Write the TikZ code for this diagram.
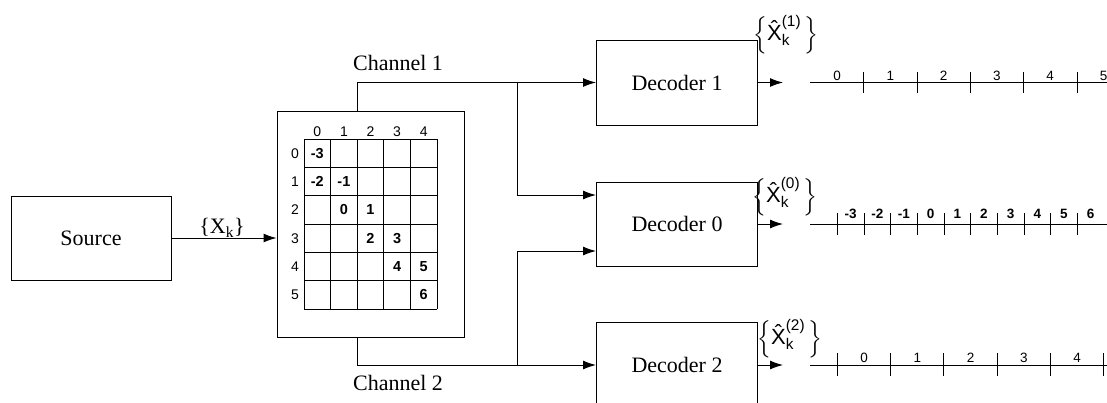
\RequirePackage{fix-cm}
\documentclass[tikz,border=0pt]{standalone}
\usepackage{amsmath}
\usepackage{fontspec}
\setmainfont{Liberation Serif}
\setsansfont{Liberation Sans}
\usetikzlibrary{arrows.meta}

\newcommand{\estlabel}[1]{$\Bigl\{\textsf{\^X}^{\textsf{(#1)}}_{\textsf{k}}\,\Bigr\}$}

\begin{document}
\begin{tikzpicture}[
		x=1pt, y=-1pt,
		line width=1pt,
		block/.style={draw, rectangle, minimum width=161pt, minimum height=85pt, font=\fontsize{22}{26}\selectfont},
		link/.style={-{Latex[length=13pt,width=9pt]}},
		cellline/.style={line width=0.9pt},
		head/.style={font=\fontsize{14}{16}\sffamily},
		entry/.style={font=\fontsize{14.5}{16}\sffamily\bfseries},
		tickmark/.style={line width=0.9pt},
		num/.style={font=\fontsize{13.5}{15}\sffamily, inner sep=0pt},
		est/.style={font=\fontsize{22}{26}\selectfont, inner sep=0pt},
		chan/.style={font=\fontsize{22}{26}\selectfont}
		]
		\useasboundingbox (0,0) rectangle (1107,402);

		\node[block, minimum width=160pt, minimum height=84pt] (src) at (91,238) {Source};
		\node[draw, minimum width=187pt, minimum height=226pt] (enc) at (370.5,224) {};
		\node[block] (dec1) at (677,82.5) {Decoder 1};
		\node[block, minimum height=84pt] (dec0) at (677,224) {Decoder 0};
		\node[block, minimum height=86pt] (dec2) at (677,365) {Decoder 2};

		% source to encoder
		\draw[link] (src.east) -- (src.east -| enc.west);
		\node[chan] (xk) at (222,228) {\{X\textsubscript{k}\}};

		% the two channels
		\coordinate (c1) at (357,82.5);
		\coordinate (c2) at (357,365);
		\coordinate (b1) at (517,82.5);
		\coordinate (b2) at (517,365);
		\draw[link] (c1 |- enc.north) -- (c1) -- (dec1.west);
		\draw[link] (c2 |- enc.south) -- (c2) -- (dec2.west);
		\draw[link] (b1) |- ([yshift=29pt]dec0.west);
		\draw[link] (b2) |- ([yshift=-27pt]dec0.west);
		\node[chan] (ch1) at (398,63) {Channel 1};
		\node[chan] (ch2) at (398,383) {Channel 2};

		% index table
		\foreach \i in {0,...,5}
			\draw[cellline] ({304+26.6*\i},139) -- ({304+26.6*\i},309);
		\foreach \j in {0,...,6}
			\draw[cellline] (304,{139+28.33*\j}) -- (437,{139+28.33*\j});
		\foreach \i in {0,...,4}
			\node[head] (h\i) at ({317.3+26.6*\i},132) {\i};
		\foreach \j in {0,...,5}
			\node[head] (r\j) at (295,{153.2+28.33*\j}) {\j};
		\foreach \r/\c/\v in {0/0/-3,1/0/-2,1/1/-1,2/1/0,2/2/1,3/2/2,3/3/3,4/3/4,4/4/5,5/4/6}
			\node[entry] (e\r\c) at ({317.3+26.6*\c},{153.2+28.33*\r}) {\v};

		% decoder outputs
		\coordinate (o1) at (783,82.5);
		\coordinate (o0) at (783,224);
		\coordinate (o2) at (783,365);
		\draw[link] (dec1.east) -- (o1);
		\draw[link] (dec0.east) -- (o0);
		\draw[link] (dec2.east) -- (o2);
		\node[est] (x1) at (786,35) {\estlabel{1}};
		\node[est] (x0) at (785,197) {\estlabel{0}};
		\node[est] (x2) at (790,339) {\estlabel{2}};

		% number line 1
		\draw (810,82.5) -- (1107,82.5);
		\foreach \i in {1,...,5}
			\draw[tickmark] ({810.6+53.3*\i},72) -- ({810.6+53.3*\i},93);
		\foreach \i in {0,...,5}
			\node[num] (n1\i) at ({837+53.3*\i},76) {\i};

		% number line 0
		\draw (810,224) -- (1107,224);
		\foreach \i in {0,...,9}
			\draw[tickmark] ({837.3+26.67*\i},213) -- ({837.3+26.67*\i},235);
		\foreach \v in {-3,...,6}
			\node[num, font=\fontsize{13.5}{15}\sffamily\bfseries] (n0\v) at ({930.6+26.67*\v},213.5) {\v};

		% number line 2
		\draw (810,365) -- (1107,365);
		\foreach \i in {0,...,5}
			\draw[tickmark] ({837.3+53.3*\i},353) -- ({837.3+53.3*\i},376);
		\foreach \i in {0,...,4}
			\node[num] (n2\i) at ({864+53.3*\i},358) {\i};
	\end{tikzpicture}
\end{document}
